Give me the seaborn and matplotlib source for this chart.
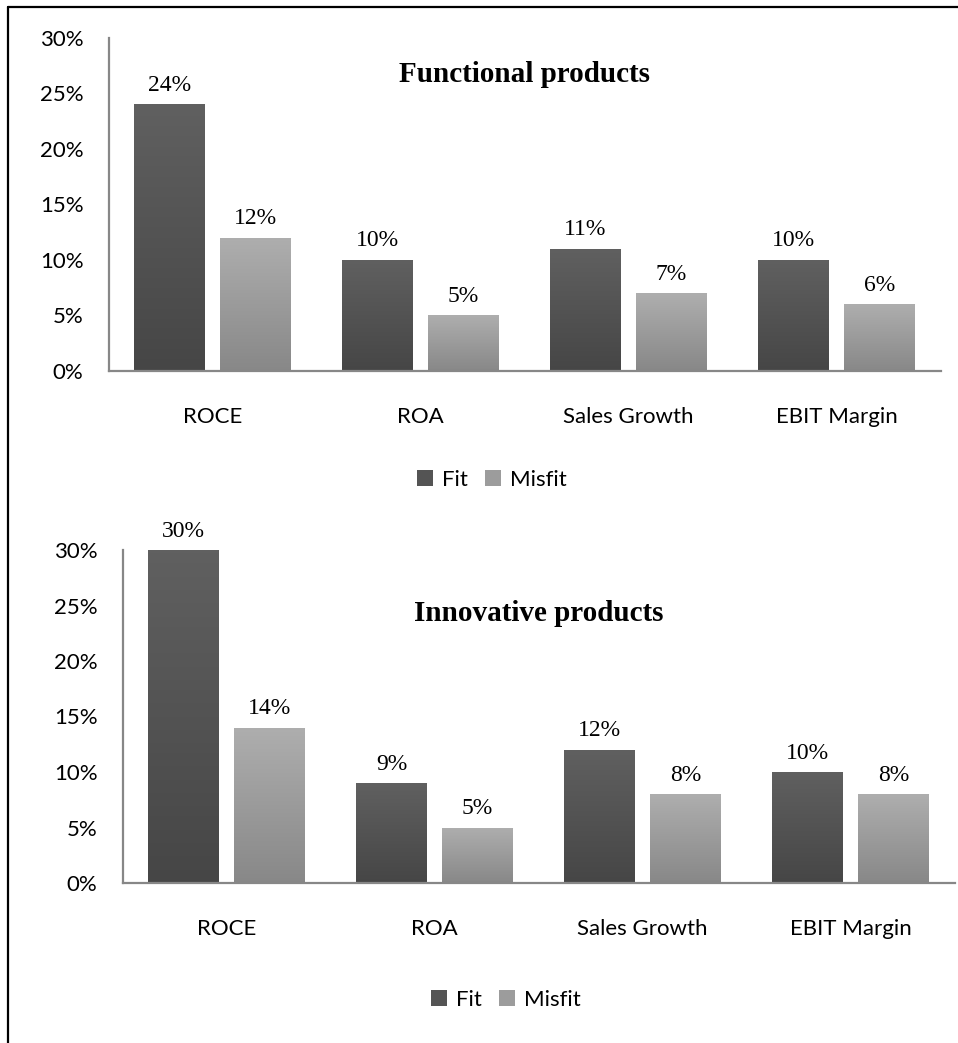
import numpy as np
import pandas as pd
import matplotlib
matplotlib.use("Agg")
import matplotlib.pyplot as plt
import seaborn as sns
from matplotlib.patches import Patch
from matplotlib.lines import Line2D
from matplotlib.colors import LinearSegmentedColormap

# Datos (en %)
metrics = ["ROCE", "ROA", "Sales Growth", "EBIT Margin"]
groups = ["Fit", "Misfit"]
functional_fit = [24, 10, 11, 10]
functional_misfit = [12, 5, 7, 6]
innovative_fit = [30, 9, 12, 10]
innovative_misfit = [14, 5, 8, 8]
y_ticks = [0, 5, 10, 15, 20, 25, 30]

sns.set_theme(style="white")
plt.rcParams['font.family'] = ['Lato', 'DejaVu Sans']

# Colores degradados (arriba -> abajo)
grad = {
    "Fit": ("#606060", "#464646"),
    "Misfit": ("#aeaeae", "#888888"),
}
solid = {"Fit": "#545454", "Misfit": "#9c9c9c"}


def make_df(fit, misfit):
    return pd.DataFrame({
        "Metric": metrics * 2,
        "Group": ["Fit"] * len(metrics) + ["Misfit"] * len(metrics),
        "Value": list(fit) + list(misfit),
    })


def draw_panel(ax, df, title, title_y):
    sns.barplot(data=df, x="Metric", y="Value", hue="Group", order=metrics,
                hue_order=groups, palette=solid, width=0.827, gap=0.175,
                saturation=1, ax=ax, legend=False)

    # Degradado en cada barra
    for cont, g in zip(ax.containers, groups):
        cmap = LinearSegmentedColormap.from_list(g, [grad[g][1], grad[g][0]])
        for bar in cont:
            x0 = bar.get_x()
            w = bar.get_width()
            h = bar.get_height()
            img = ax.imshow(np.linspace(0, 1, 100).reshape(-1, 1), cmap=cmap,
                            origin="lower", extent=[x0, x0 + w, 0, h],
                            aspect="auto", zorder=bar.get_zorder() + 0.1)
            img.set_clip_path(bar)
        ax.bar_label(cont, labels=[f"{int(v)}%" for v in cont.datavalues],
                     padding=6, fontsize=17, family="Liberation Serif",
                     color="black")
    ax.set_ylim(0, 30)
    ax.set_xlim(-0.5, len(metrics) - 0.5)
    ax.set_aspect("auto")

    ax.set_yticks(y_ticks)
    ax.set_yticklabels([f"{t}%" for t in y_ticks])
    ax.tick_params(axis="y", length=0, pad=18, labelsize=16, labelcolor="black")
    ax.tick_params(axis="x", length=0, pad=26, labelsize=16, labelcolor="black")
    ax.set_xlabel("")
    ax.set_ylabel("")
    sns.despine(ax=ax)
    for s in ["left", "bottom"]:
        ax.spines[s].set_color("#878787")
        ax.spines[s].set_linewidth(1.6)
    ax.text(0.5, title_y, title, transform=ax.transAxes, ha="center",
            va="center", fontsize=21, fontweight="bold",
            family="Liberation Serif", color="black")


fig = plt.figure(figsize=(9.58, 10.43), dpi=100)
W, H = 958, 1043

ax1 = fig.add_axes([108.5 / W, 1 - 371 / H, 832 / W, (371 - 37.5) / H])
ax2 = fig.add_axes([122.5 / W, 1 - 883 / H, 832 / W, (883 - 550) / H])

draw_panel(ax1, make_df(functional_fit, functional_misfit),
           "Functional products", 0.888)
draw_panel(ax2, make_df(innovative_fit, innovative_misfit),
           "Innovative products", 0.808)

handles = [Patch(facecolor=solid[g], edgecolor="none", label=g) for g in groups]
for cx, cy in [(492, 480), (506, 1000)]:
    fig.legend(handles=handles, loc="center", ncol=2,
               bbox_to_anchor=(cx / W, 1 - cy / H), frameon=False,
               fontsize=16, handlelength=0.7, handleheight=0.7,
               handletextpad=0.4, columnspacing=0.8, labelcolor="black")

# Marco del recuadro
fig.add_artist(Line2D([8 / W, 8 / W], [0, 1 - 6.5 / H], color="black",
                      lw=1.6, transform=fig.transFigure))
fig.add_artist(Line2D([8 / W, 1], [1 - 6.5 / H, 1 - 6.5 / H], color="black",
                      lw=1.6, transform=fig.transFigure))

fig.savefig("out.png", dpi=100)
